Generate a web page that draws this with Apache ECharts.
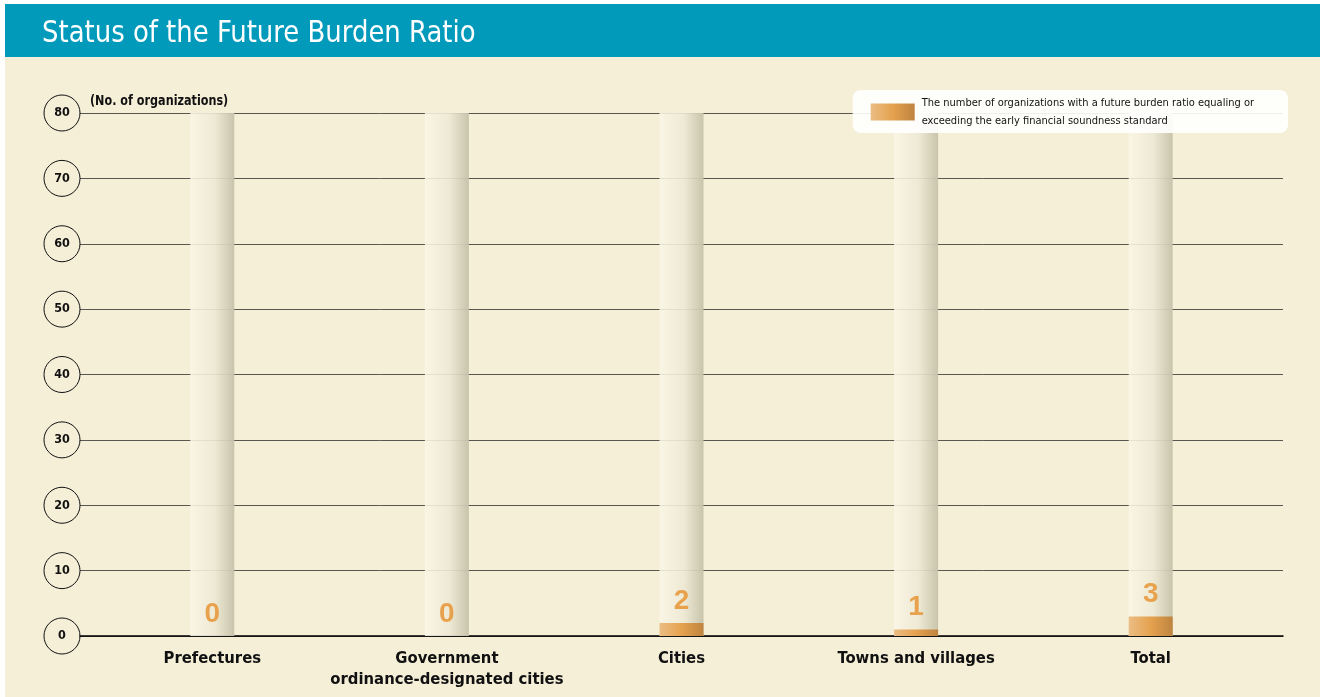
<!DOCTYPE html>
<html>
<head>
<meta charset="utf-8">
<style>
  html, body { margin: 0; padding: 0; background: #ffffff; }
  #chart { width: 1320px; height: 697px; }
</style>
<script src="https://cdn.jsdelivr.net/npm/echarts@6/dist/echarts.min.js"></script>
</head>
<body>
<div id="chart"></div>
<script>
// Organizations at or above the early financial soundness standard (future burden ratio)
const categories = ['Prefectures', 'Government\nordinance-designated cities', 'Cities', 'Towns and villages', 'Total'];
const counts = [0, 0, 2, 1, 3];
const yTicks = [0, 10, 20, 30, 40, 50, 60, 70, 80];
const yMax = 80;
const seriesName = 'The number of organizations with a future burden ratio equaling or\nexceeding the early financial soundness standard';
const titleText = 'Status of the Future Burden Ratio';
const unitText = '(No. of organizations)';

const FONT = '"Liberation Sans Narrow", "DejaVu Sans Condensed", "Liberation Sans", sans-serif';

// cylinder-like backdrop behind each bar
const tubeFill = new echarts.graphic.LinearGradient(0, 0, 1, 0, [
  { offset: 0, color: 'rgba(250,246,230,0.88)' },
  { offset: 0.55, color: 'rgba(238,233,212,0.9)' },
  { offset: 1, color: 'rgba(198,193,168,0.95)' }
]);
const orangeFill = new echarts.graphic.LinearGradient(0, 0, 1, 0, [
  { offset: 0, color: '#ebbd83' },
  { offset: 0.5, color: '#e5a24f' },
  { offset: 1, color: '#bf8440' }
]);

const chart = echarts.init(document.getElementById('chart'));
chart.setOption({
  animation: false,
  textStyle: { fontFamily: FONT },
  graphic: [
    { type: 'rect', x: 5, y: 57, shape: { width: 1315, height: 640 }, style: { fill: '#f5efd8' }, z: -10 },
    { type: 'rect', x: 5, y: 4, shape: { width: 1315, height: 53 }, style: { fill: '#019abb' }, z: -10 },
    { type: 'text', x: 42, y: 18, scaleX: 0.93,
      style: { text: titleText, fill: '#ffffff', font: '31px ' + FONT, verticalAlign: 'top' } },
    { type: 'text', x: 90, y: 94, scaleX: 0.89,
      style: { text: unitText, fill: '#111111', font: 'bold 14px ' + FONT, verticalAlign: 'top' } }
  ],
  legend: {
    right: 32,
    top: 90,
    padding: [4, 34, 3, 18],
    backgroundColor: 'rgba(255,255,255,0.9)',
    borderRadius: 8,
    icon: 'rect',
    itemWidth: 44,
    itemHeight: 17,
    itemGap: 0,
    data: [seriesName],
    textStyle: { fontFamily: FONT, fontSize: 11, lineHeight: 18, color: '#111', padding: [0, 0, 0, 2] }
  },
  grid: [
    { left: 80, right: 37, top: 113, bottom: 61 },
    { left: 95, right: 52, top: 113, bottom: 61 }
  ],
  xAxis: [
    {
      gridIndex: 0, type: 'category', data: categories,
      axisLine: { show: true, lineStyle: { color: '#000000', width: 1.5 } },
      axisTick: { show: false }, axisLabel: { show: false }
    },
    {
      gridIndex: 1, type: 'category', data: categories,
      axisLine: { show: false }, axisTick: { show: false },
      axisLabel: {
        margin: 12, fontFamily: FONT, fontSize: 16.5, fontWeight: 'bold',
        color: '#111111', lineHeight: 21, interval: 0
      }
    }
  ],
  yAxis: [
    {
      gridIndex: 0, type: 'value', min: 0, max: yMax, interval: 10,
      axisLine: { show: false }, axisTick: { show: false },
      splitLine: { show: true, lineStyle: { color: '#5a5750', width: 1 } },
      axisLabel: {
        margin: 0,
        formatter: v => yTicks.includes(v) ? '{c|' + v + '}' : '',
        rich: {
          c: {
            width: 36, height: 36, lineHeight: 36, align: 'center',
            borderRadius: 19, borderWidth: 1, borderColor: '#111111',
            fontFamily: FONT, fontSize: 12.5, fontWeight: 'bold', color: '#111111'
          }
        }
      }
    },
    {
      gridIndex: 1, type: 'value', min: 0, max: yMax, interval: 10,
      axisLine: { show: false }, axisTick: { show: false },
      splitLine: { show: false }, axisLabel: { show: false }
    }
  ],
  series: [
    {
      type: 'bar', xAxisIndex: 1, yAxisIndex: 1,
      data: categories.map(() => yMax),
      barWidth: 44, barGap: '-100%',
      itemStyle: { color: tubeFill },
      silent: true, z: 1
    },
    {
      name: seriesName,
      type: 'bar', xAxisIndex: 1, yAxisIndex: 1,
      data: counts,
      barWidth: 44,
      itemStyle: { color: orangeFill },
      z: 2,
      label: {
        show: true, position: 'top', distance: 8,
        color: '#e8a24e', fontFamily: '"Liberation Sans", sans-serif',
        fontSize: 28, fontWeight: 'bold'
      }
    }
  ]
});
</script>
</body>
</html>
